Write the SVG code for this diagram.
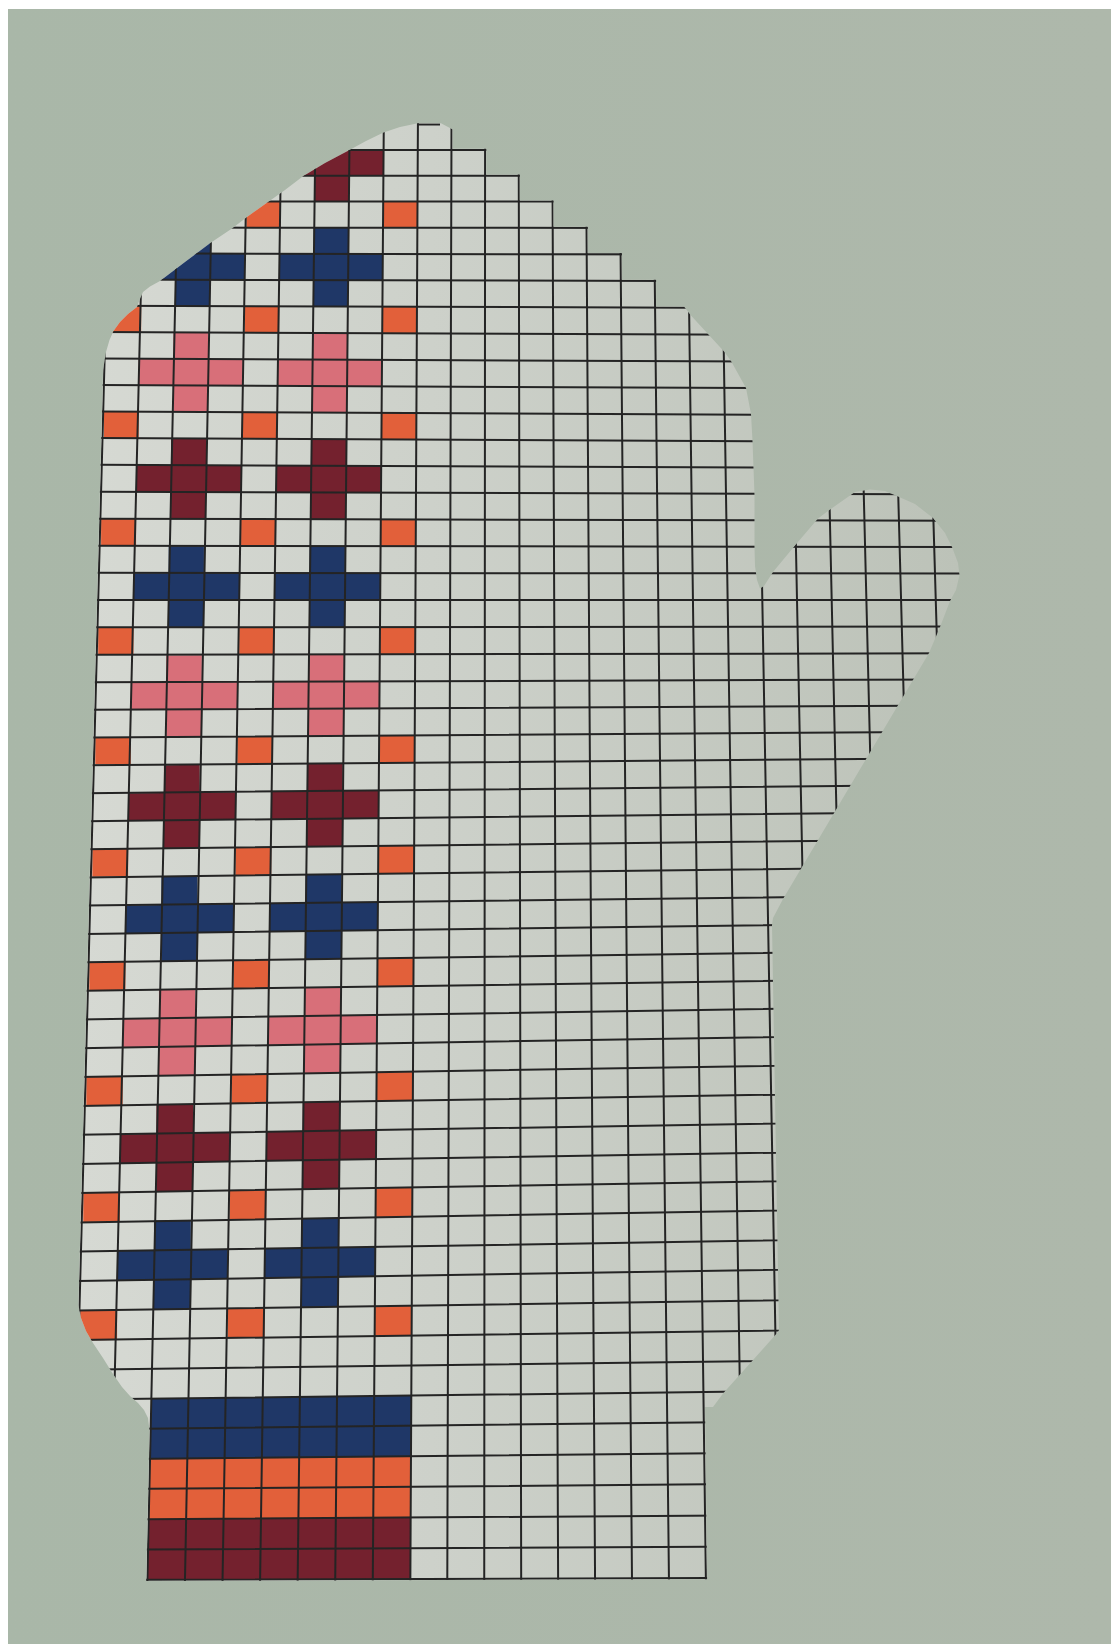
<svg xmlns="http://www.w3.org/2000/svg" xmlns:xlink="http://www.w3.org/1999/xlink" width="1111" height="1644" viewBox="0 0 1111 1644">
<defs>
<style>
.grid{fill:none;stroke:#242424;stroke-width:2;stroke-linecap:butt}
.mar{fill:#74212e}
.blu{fill:#1f3767}
.pnk{fill:#d86f79}
.or{fill:#e2603a}
</style>
<linearGradient id="bg" gradientUnits="userSpaceOnUse" x1="0" y1="0" x2="1111" y2="0">
<stop offset="0" stop-color="#a9b7a8"/>
<stop offset="1" stop-color="#aeb8ab"/>
</linearGradient>
<linearGradient id="pp" gradientUnits="userSpaceOnUse" x1="80" y1="0" x2="960" y2="0">
<stop offset="0" stop-color="#d6d9d3"/>
<stop offset="0.4" stop-color="#cdd1ca"/>
<stop offset="1" stop-color="#bcc2b8"/>
</linearGradient>
<clipPath id="mit">
<path d="M383.5,132.5 L400,127 L418,123.3 L441,123.3 L452.7,129.5 L452.7,148.8 L486.3,148.8 L486.3,174.5 L519.8,174.5 L519.8,200.4 L553.5,200.4 L553.5,226.7 L587.8,226.7 L587.8,253.1 L621.9,253.1 L621.9,279.7 L656.1,279.7 L656.1,306.4 L684,306.4 L690.5,315 L708,334 L724.5,352 L731,361 L746,388 L751,414 L752.5,441 L753.5,468 L754.5,495 L754.5,521 L754.5,548 L755,566 L757,580 L760,588.5 L764,586 L773,572 L795,545.5 L818,518.5 L828,511 L845,499 L855,492 L870,489.5 L885,491 L898,496.5 L915,504 L933,518 L945,533 L952,547 L958,563 L959.5,575 L956,590 L950,601 L940,627 L929,653 L783,899 L773,918 L772,925 L779,1330 L778,1332 L723,1393.5 L713,1407 L705,1407 L707.1,1579.2 L146.2,1581 L149.5,1430 L148,1418 L144,1410 L138,1403 L130,1396 L122,1387 L113,1374 L103,1358 L93,1343 L86,1331 L81,1318 L78.4,1305 L103.1,370 L106,352 L109.5,340 L113.5,331 L120,322 L128,314 L137,307 L139.5,300 L143,292 L150,286.5 L160,281 L185,262 L210,243.3 L232,228.5 L247,217 L267,202.8 L285,190 L303,176.3 L325,163 L350,149.8 L366,141 Z"/>
</clipPath>
<g id="blk">
<path d="M-7,0h1v1h1v1h-1v1h-1v-1h-1v-1h1zM-3,0h1v1h1v1h-1v1h-1v-1h-1v-1h1z"/>
<path class="or" d="M-9,3h1v1h-1zM-5,3h1v1h-1zM-1,3h1v1h-1z"/>
</g>
</defs>
<rect width="1111" height="1644" fill="#ffffff"/>
<rect x="8" y="9" width="1103" height="1635" fill="url(#bg)"/>
<g id="mitten" clip-path="url(#mit)">
<rect id="paper" x="60" y="110" width="920" height="1490" fill="url(#pp)"/>
<g id="pattern">
<use xlink:href="#blk" class="mar" transform="matrix(34.247,0.0138,0,25.84,417.65,124.4)"/>
<use xlink:href="#blk" class="blu" transform="matrix(34.49,0.0834,0,26.405,417.1,227.76)"/>
<use xlink:href="#blk" class="pnk" transform="matrix(34.74,0.154,0,26.56,416.56,333.38)"/>
<use xlink:href="#blk" class="mar" transform="matrix(34.99,0.1129,0,26.645,416.0,439.63)"/>
<use xlink:href="#blk" class="blu" transform="matrix(35.25,0,0,26.995,415.44,546.21)"/>
<use xlink:href="#blk" class="pnk" transform="matrix(35.51,-0.1718,0,27.12,414.87,654.19)"/>
<use xlink:href="#blk" class="mar" transform="matrix(35.77,-0.3606,0,27.685,414.29,762.67)"/>
<use xlink:href="#blk" class="blu" transform="matrix(36.04,-0.4796,0,28.15,413.70,873.41)"/>
<use xlink:href="#blk" class="pnk" transform="matrix(36.31,-0.5563,0,28.625,413.11,986.02)"/>
<use xlink:href="#blk" class="mar" transform="matrix(36.58,-0.6047,0,29.03,412.51,1100.52)"/>
<use xlink:href="#blk" class="blu" transform="matrix(36.85,-0.5646,0,29.705,411.9,1216.65)"/>
</g>
<g id="cuff">
<polygon class="blu" points="151.4,1398.7 411.3,1395.5 411.0,1456.2 150.1,1458.7"/>
<polygon class="or" points="150.1,1458.7 411.0,1456.2 410.7,1517.5 148.7,1519.2"/>
<polygon class="mar" points="148.7,1519.2 410.7,1517.5 410.3,1579.0 147.4,1579.8"/>
</g>
<g id="gridlines">
<path class="grid" d="M60,150L980,150 M60,175.7L980,175.7 M60,201.6L980,201.6 M60,227.5L980,228.2 M60,253.4L980,254.9 M60,279.5L980,281.7 M60,305.7L980,308.6 M60,331.9L980,335.6 M60,358.2L980,362.7 M60,384.7L980,389.2 M60,411.3L980,415.8 M60,437.9L980,442.4 M60,464.7L980,468.4 M60,491.6L980,494.5 M60,518.6L980,520.8 M60,545.6L980,547.1 M60,572.8L980,573.5 M60,600L980,600 M60,627.3L980,626.6 M60,654.8L980,653.3 M60,682.3L980,679.4 M60,710L980,705.5 M60,737.7L980,731.7 M60,765.5L980,758.1 M60,793.5L980,784.6 M60,821.4L980,811.8 M60,849.5L980,839.1 M60,877.7L980,866.6 M60,905.9L980,894.8 M60,934.3L980,922.4 M60,962.6L980,950 M60,991.2L980,977.8 M60,1019.8L980,1005.7 M60,1048.5L980,1033.7 M60,1077.3L980,1062.5 M60,1106.2L980,1091.4 M60,1135.1L980,1120.3 M60,1164.2L980,1149.4 M60,1193.4L980,1177.8 M60,1222.7L980,1207.1 M60,1251.9L980,1237.1 M60,1281.3L980,1266.5 M60,1310.8L980,1297.4 M60,1340.3L980,1327.7 M60,1370.1L980,1358.2 M60,1399.8L980,1388.7 M60,1429.6L980,1419.2 M60,1459.6L980,1450.7 M60,1489.5L980,1482.1 M60,1519.8L980,1513.8 M60,1549.9L980,1545.4 M60,1580.1L980,1577.2"/>
<path class="grid" d="M111.18,110L71.75,1600 M145.27,110L109.36,1600 M179.36,110L146.97,1600 M213.45,110L184.58,1600 M247.54,110L222.19,1600 M281.63,110L259.8,1600 M315.72,110L297.41,1600 M349.81,110L335.02,1600 M383.9,110L372.63,1600 M417.99,110L410.24,1600 M451.55,110L447.23,1600 M485.11,110L484.22,1600 M518.67,110L521.21,1600 M552.23,110L558.2,1600 M585.79,110L595.19,1600 M619.35,110L632.18,1600 M652.91,110L669.17,1600 M686.47,110L706.16,1600 M720.03,110L743.15,1600 M753.59,110L780.14,1600 M787.15,110L817.13,1600 M820.71,110L854.12,1600 M854.27,110L891.11,1600 M887.83,110L928.1,1600 M921.39,110L965.09,1600"/>
<path class="grid" d="M417,124.4L440,124.4"/>
</g>
</g>
</svg>
